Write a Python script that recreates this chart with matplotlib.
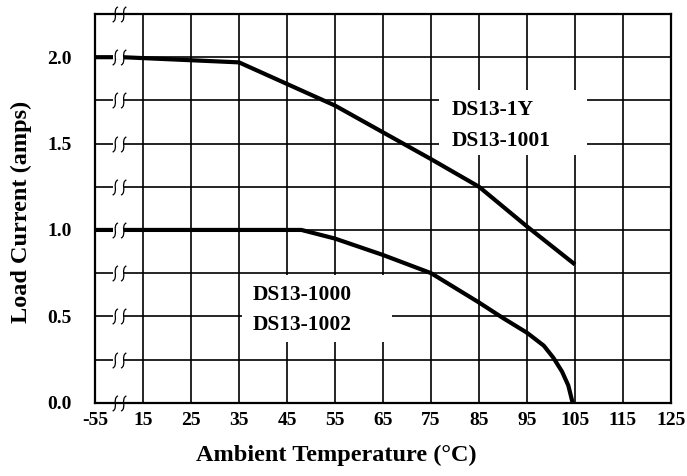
import numpy as np
import matplotlib
matplotlib.use("Agg")
import matplotlib.pyplot as plt
from matplotlib.path import Path
from matplotlib.patches import Rectangle

plt.rcParams['font.family'] = ['Liberation Serif', 'DejaVu Serif']
plt.rcParams['font.weight'] = 'bold'

# ---- data ----
x_ticks = [-55, 15, 25, 35, 45, 55, 65, 75, 85, 95, 105, 115, 125]
x_tick_labels = ["-55", "15", "25", "35", "45", "55", "65", "75", "85", "95", "105", "115", "125"]
y_ticks = [0.0, 0.5, 1.0, 1.5, 2.0]
y_tick_labels = ["0.0", "0.5", "1.0", "1.5", "2.0"]
y_grid = [0.0, 0.25, 0.5, 0.75, 1.0, 1.25, 1.5, 1.75, 2.0, 2.25]

upper_temp = [-55, -15, 35, 45, 55, 65, 75, 85, 95, 105]
upper_amps = [2.0, 2.0, 1.97, 1.845, 1.72, 1.565, 1.41, 1.25, 1.02, 0.80]
upper_names = ["DS13-1Y", "DS13-1001"]

lower_temp = [-55, 48, 55, 65, 75, 85, 90, 95, 98.5, 100.5, 102.3, 103.6, 104.5]
lower_amps = [1.0, 1.0, 0.95, 0.855, 0.75, 0.58, 0.49, 0.405, 0.33, 0.26, 0.18, 0.10, 0.0]
lower_names = ["DS13-1000", "DS13-1002"]

break_temp = -20  # position of axis-break marks


# compressed x-axis: -55..15 drawn in the width of one 10-degree cell
def fwd(x):
    x = np.asarray(x, dtype=float)
    return np.where(x < 15, 15 - (15 - x) / 7.0, x)


def inv(y):
    y = np.asarray(y, dtype=float)
    return np.where(y < 15, 15 - (15 - y) * 7.0, y)


fig = plt.figure(figsize=(6.87, 4.76), dpi=100)
ax = fig.add_axes([95 / 687, 1 - 402.7 / 476, 576 / 687, 388.7 / 476])
ax.set_xscale('function', functions=(fwd, inv))
ax.set_xlim(-55, 125)
ax.set_ylim(0, 2.25)

# grid
for xt in x_ticks:
    ax.axvline(xt, color='black', lw=1.2, zorder=1)
for yg in y_grid:
    ax.axhline(yg, color='black', lw=1.2, zorder=1)

# label boxes (white) hiding grid
ax.add_patch(Rectangle((inv(76.7), 1.433), inv(107.5) - inv(76.7), 1.81 - 1.433,
                       facecolor='white', edgecolor='none', zorder=2))
ax.add_patch(Rectangle((inv(35.6), 0.353), inv(66.8) - inv(35.6), 0.74 - 0.353,
                       facecolor='white', edgecolor='none', zorder=2))

lab_kw = dict(fontsize=15.5, fontweight='bold', va='center', ha='left', zorder=3)
ax.text(79.3, 1.694, upper_names[0], **lab_kw)
ax.text(79.3, 1.517, upper_names[1], **lab_kw)
ax.text(37.9, 0.623, lower_names[0], **lab_kw)
ax.text(37.9, 0.447, lower_names[1], **lab_kw)

# curves
ax.plot(upper_temp, upper_amps, color='black', lw=3.0, solid_capstyle='butt', zorder=3)
ax.plot(lower_temp, lower_amps, color='black', lw=3.0, solid_capstyle='butt', zorder=3)

# axis-break marks
gap_l, gap_r = inv(8.85), inv(11.05)
for yg in y_grid:
    ax.plot([gap_l, gap_r], [yg, yg], color='white', lw=4, solid_capstyle='butt', zorder=4)
verts = []
codes = []
for dx in (-0.55, 0.55):
    verts += [(dx + 0.35, 1.0), (dx - 0.45, 0.6), (dx + 0.45, -0.6), (dx - 0.35, -1.0)]
    codes += [Path.MOVETO, Path.CURVE4, Path.CURVE4, Path.CURVE4]
squiggle = Path(verts, codes)
ax.plot([break_temp] * len(y_grid), y_grid, linestyle='none', marker=squiggle,
        markersize=11, markerfacecolor='none', markeredgecolor='black',
        markeredgewidth=0.9, zorder=5, clip_on=False)

for s in ax.spines.values():
    s.set_linewidth(1.6)
    s.set_zorder(6)

ax.set_xticks(x_ticks)
ax.set_xticklabels(x_tick_labels)
ax.set_yticks(y_ticks)
ax.set_yticklabels(y_tick_labels)
ax.tick_params(axis='both', length=0, labelsize=14)
ax.tick_params(axis='y', pad=17)
ax.tick_params(axis='x', pad=7)
for lab in ax.get_xticklabels() + ax.get_yticklabels():
    lab.set_fontweight('bold')

fig.text(336 / 687, 1 - 455 / 476, 'Ambient Temperature (°C)', fontsize=17.5,
         fontweight='bold', ha='center', va='center')
fig.text(21 / 687, 1 - 212 / 476, 'Load Current (amps)', fontsize=17.5,
         fontweight='bold', ha='center', va='center', rotation=90)

fig.savefig('out.png', dpi=100)
